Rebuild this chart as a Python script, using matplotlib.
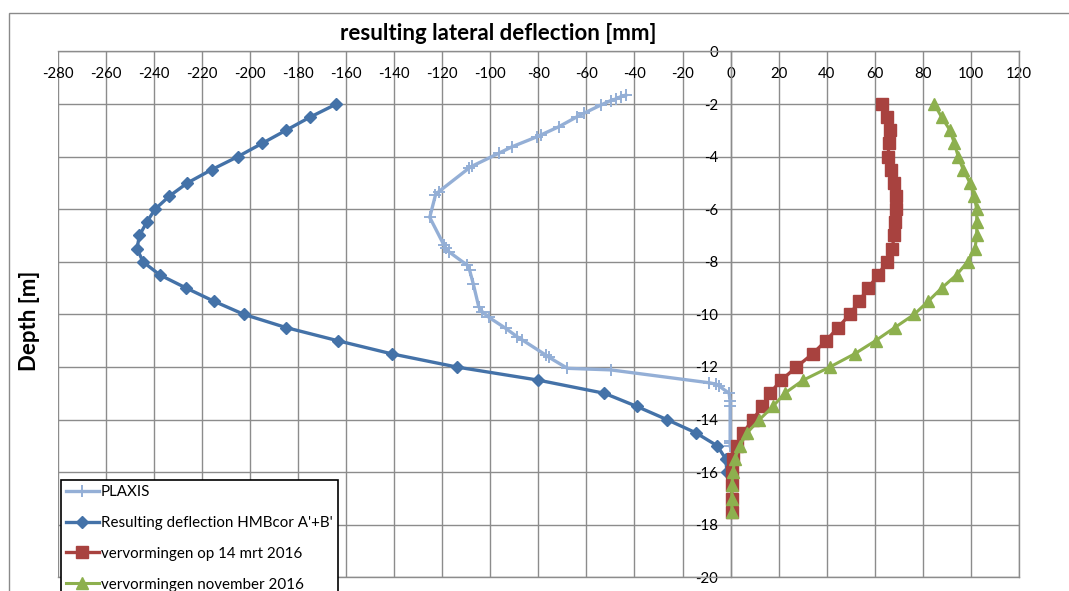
import matplotlib
matplotlib.use("Agg")
import matplotlib.pyplot as plt
from matplotlib.patches import Rectangle

plt.rcParams['font.family'] = ['Lato', 'DejaVu Sans']
plt.rcParams['axes.unicode_minus'] = False

# ---- data -------------------------------------------------------------
plaxis_depth = [-1.66, -1.72, -1.81, -1.87, -2.04, -2.35, -2.48, -2.86, -3.18, -3.24,
                -3.62, -3.87, -4.36, -4.44, -5.33, -5.46, -6.31, -7.36, -7.49, -7.62,
                -8.13, -8.32, -8.83, -9.71, -9.90, -10.11, -10.53, -10.85, -10.97, -11.54,
                -11.63, -12.05, -12.11, -12.60, -12.65, -12.73, -13.00, -13.30, -13.50,
                -14.80, -14.90, -15.00]
plaxis_defl = [-43.6, -45.7, -47.8, -49.9, -54.0, -61.0, -63.8, -71.4, -79.0, -80.4,
               -90.8, -96.4, -107.5, -108.9, -121.4, -122.8, -125.2, -119.3, -118.6, -117.2,
               -109.6, -108.6, -107.1, -104.8, -103.3, -100.6, -93.6, -88.8, -86.7, -77.0,
               -75.6, -67.9, -49.9, -8.9, -6.1, -4.7, -0.6, -0.2, -0.2,
               -0.2, -0.2, -0.2]

hmb_depth = [-2.0, -2.5, -3.0, -3.5, -4.0, -4.5, -5.0, -5.5, -6.0, -6.5, -7.0, -7.5,
             -8.0, -8.5, -9.0, -9.5, -10.0, -10.5, -11.0, -11.5, -12.0, -12.5, -13.0,
             -13.5, -14.0, -14.5, -15.0, -15.5, -16.0]
hmb_defl = [-164.0, -175.0, -185.0, -195.0, -205.0, -216.0, -226.0, -233.5, -239.5,
            -243.0, -246.0, -247.0, -244.5, -237.5, -226.5, -215.0, -202.5, -185.0,
            -163.5, -141.0, -114.0, -80.0, -52.5, -39.0, -26.5, -14.5, -5.5, -2.0, -1.5]

meas_depth = [-2.0, -2.5, -3.0, -3.5, -4.0, -4.5, -5.0, -5.5, -6.0, -6.5, -7.0, -7.5,
              -8.0, -8.5, -9.0, -9.5, -10.0, -10.5, -11.0, -11.5, -12.0, -12.5, -13.0,
              -13.5, -14.0, -14.5, -15.0, -15.5, -16.0, -16.5, -17.0, -17.5]
mrt2016_defl = [63.1, 64.9, 66.3, 65.8, 65.6, 66.7, 67.9, 69.0, 69.0, 68.6, 68.1, 67.2,
                64.9, 61.4, 57.2, 53.5, 49.6, 44.7, 39.7, 34.1, 27.4, 21.1, 16.3,
                13.1, 9.3, 5.2, 2.8, 1.0, 0.6, 0.5, 0.5, 0.5]
nov2016_defl = [84.7, 87.8, 91.3, 93.1, 94.7, 96.8, 99.6, 101.3, 102.4, 102.4, 102.4, 101.7,
                98.6, 94.0, 87.8, 82.2, 76.4, 68.3, 60.3, 51.6, 41.3, 30.2, 22.5,
                17.6, 12.0, 6.9, 3.7, 1.7, 1.0, 0.5, 0.5, 0.5]

x_ticks = list(range(-280, 121, 20))
y_ticks = list(range(0, -21, -2))

series_labels = ["PLAXIS", "Resulting deflection HMBcor A'+B'",
                 "vervormingen op 14 mrt 2016", "vervormingen november 2016"]

# ---- figure -----------------------------------------------------------
W, H = 1069, 591
fig = plt.figure(figsize=(W / 100, H / 100), dpi=100)

# chart-area frame
fig.add_artist(Rectangle((8.6 / W, -0.1), 1.2, 1 - 12.7 / H + 0.1,
                         transform=fig.transFigure, fill=False,
                         edgecolor='#8a8a8a', lw=1.0, clip_on=False))

ax = fig.add_axes([57.7 / W, 1 - 577.4 / H, (1019 - 57.7) / W, (577.4 - 51.4) / H])

grid_col = '#8c8c8c'
ax.plot(plaxis_defl, plaxis_depth, color='#94afd6', lw=2.4, marker='+',
        ms=9, mew=1.4, label=series_labels[0], zorder=3)
ax.plot(hmb_defl, hmb_depth, color='#4472a8', lw=2.4, marker='D',
        ms=6, mec='#4472a8', label=series_labels[1], zorder=4)
ax.plot(mrt2016_defl, meas_depth, color='#a8423f', lw=2.4, marker='s',
        ms=8.5, mec='#a8423f', label=series_labels[2], zorder=5)
ax.plot(nov2016_defl, meas_depth, color='#8db04e', lw=2.2, marker='^',
        ms=8, mec='#8db04e', label=series_labels[3], zorder=6)

ax.set_xlim(-280, 120)
ax.set_ylim(-20, 0)
ax.set_xticks(x_ticks)
ax.set_yticks(y_ticks)
ax.set_axisbelow(True)
ax.grid(True, color=grid_col, lw=1.0)

for s in ax.spines.values():
    s.set_color(grid_col)
    s.set_linewidth(1.0)
ax.spines['left'].set_position(('data', 0))

ax.tick_params(axis='x', top=False, bottom=False, labeltop=True, labelbottom=False,
               length=0, pad=-21, labelsize=10.8, colors='black')
ax.tick_params(axis='y', left=False, length=0, pad=9, labelsize=10.8, colors='black')

fig.text(498 / W, 1 - 33 / H, 'resulting lateral deflection [mm]', ha='center',
         va='center', fontsize=16, fontweight='bold')
fig.text(29 / W, 1 - 321 / H, 'Depth [m]', ha='center', va='center',
         rotation=90, fontsize=16, fontweight='bold')

leg = ax.legend(loc='upper left', bbox_to_anchor=(61 / W, 1 - 480 / H),
                bbox_transform=fig.transFigure, borderaxespad=0, fancybox=False,
                framealpha=1, edgecolor='black', fontsize=10.9, numpoints=1,
                handlelength=2.2, handletextpad=0.12, labelspacing=1.12,
                borderpad=0.32)
leg.get_frame().set_linewidth(1.2)
leg.set_zorder(10)

fig.savefig('out.png', dpi=100)
